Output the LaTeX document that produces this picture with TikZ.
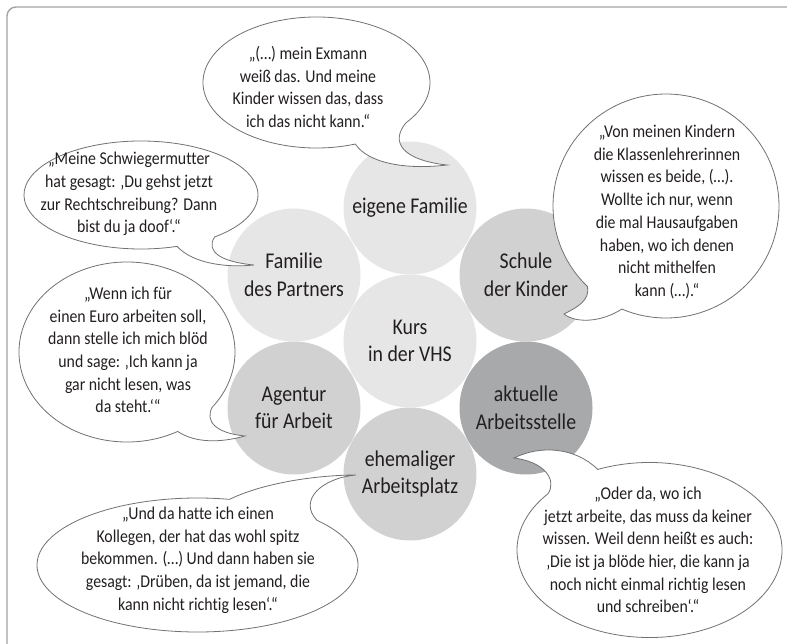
\documentclass[tikz,border=0pt]{standalone}
\usepackage{fontspec}
\setmainfont{Carlito}[Ligatures=NoCommon]
\newfontfamily\bubfam{Carlito}[FakeStretch=0.88, Ligatures=NoCommon]
\newfontfamily\circfam{Carlito}[FakeStretch=0.88, Ligatures=NoCommon]
\definecolor{txt}{HTML}{231F20}
\definecolor{lightc}{HTML}{E6E6E7}
\definecolor{medc}{HTML}{D1D1D2}
\definecolor{darkc}{HTML}{A8A9AB}
\definecolor{bubline}{HTML}{707172}
\definecolor{framec}{HTML}{A3A3A3}
\begin{document}
\begin{tikzpicture}[x=1pt,y=-1pt,
  ring/.style={circle, minimum size=133pt, inner sep=0pt, align=center,
    font=\circfam\fontsize{22.5}{27.5}\selectfont, text=txt},
  bubble/.style={draw=bubline, fill=white, line width=0.8pt},
  bubtext/.style={align=center, inner sep=0pt, text=txt,
    font=\bubfam\fontsize{18}{22.7}\selectfont}]
\useasboundingbox (0,0) rectangle (787,644);
\draw[framec, line width=1.4pt, rounded corners=9pt] (7,660) -- (7,7) -- (800,7);

% circles
\node[ring, fill=lightc] (fam) at (410,208) {eigene Familie};
\node[ring, fill=lightc] (partner) at (294,275) {Familie\\des Partners};
\node[ring, fill=medc] (schule) at (526,275) {Schule\\der Kinder};
\node[ring, fill=lightc] (kurs) at (410,341) {Kurs\\in der VHS};
\node[ring, fill=medc] (agentur) at (294,408) {Agentur\\für Arbeit};
\node[ring, fill=darkc] (aktuell) at (526,408) {aktuelle\\Arbeitsstelle};
\node[ring, fill=medc] (ehem) at (410,474) {ehemaliger\\Arbeitsplatz};

% bubbles
\draw[bubble] (316.5,82.5) ++(70:113.5 and 65.5)
  arc[start angle=70, end angle=398, x radius=113.5, y radius=65.5]
  .. controls (390,142) and (402,160) .. (447,165)
  .. controls (405,170) and (368,163) .. cycle;
\draw[bubble] (141,195) ++(72:117 and 54)
  arc[start angle=72, end angle=411, x radius=117, y radius=54]
  .. controls (205,252) and (222,262) .. (254,265)
  .. controls (225,268) and (192,263) .. cycle;
\draw[bubble] (666,206) ++(134:113 and 112)
  arc[start angle=134, end angle=473, x radius=113, y radius=112]
  .. controls (600,323) and (575,323) .. (564,314)
  .. controls (578,307) and (590,300) .. cycle;
\draw[bubble] (127,352) ++(62:108 and 90)
  arc[start angle=62, end angle=398, x radius=108, y radius=90]
  .. controls (205,421) and (215,433) .. (245,436)
  .. controls (220,443) and (195,443) .. cycle;
\draw[bubble] (197.5,565) ++(318:160.5 and 67)
  arc[start angle=318, end angle=641.5, x radius=160.5, y radius=67]
  .. controls (265,482) and (320,475) .. (356,475)
  .. controls (322,478) and (298,500) .. cycle;
\draw[bubble] (649.5,550) ++(247:132.5 and 87.5)
  arc[start angle=247, end angle=580, x radius=132.5, y radius=87.5]
  .. controls (557,480) and (545,462) .. (514,458)
  .. controls (540,445) and (575,447) .. cycle;

% bubble texts
\node[bubtext] (q1) at (308,87) {„(…) mein Exmann\\weiß das. Und meine\\Kinder wissen das, dass\\ich das nicht kann.“};
\node[bubtext] (q2) at (129,194) {„Meine Schwiegermutter\\hat gesagt: ‚Du gehst jetzt\\zur Rechtschreibung? Dann\\bist du ja doof‘.“};
\node[bubtext] (q3) at (667,212) {„Von meinen Kindern\\die Klassenlehrerinnen\\wissen es beide, (…).\\Wollte ich nur, wenn\\die mal Hausaufgaben\\haben, wo ich denen\\nicht mithelfen\\kann (…).“};
\node[bubtext] (q4) at (128,350) {„Wenn ich für\\einen Euro arbeiten soll,\\dann stelle ich mich blöd\\und sage: ‚Ich kann ja\\gar nicht lesen, was\\da steht.‘“};
\node[bubtext] (q5) at (198,560) {„Und da hatte ich einen\\Kollegen, der hat das wohl spitz\\bekommen. (…) Und dann haben sie\\gesagt: ‚Drüben, da ist jemand, die\\kann nicht richtig lesen‘.“};
\node[bubtext] (q6) at (648,550) {„Oder da, wo ich\\jetzt arbeite, das muss da keiner\\wissen. Weil denn heißt es auch:\\‚Die ist ja blöde hier, die kann ja\\noch nicht einmal richtig lesen\\und schreiben‘.“};
\end{tikzpicture}
\end{document}
